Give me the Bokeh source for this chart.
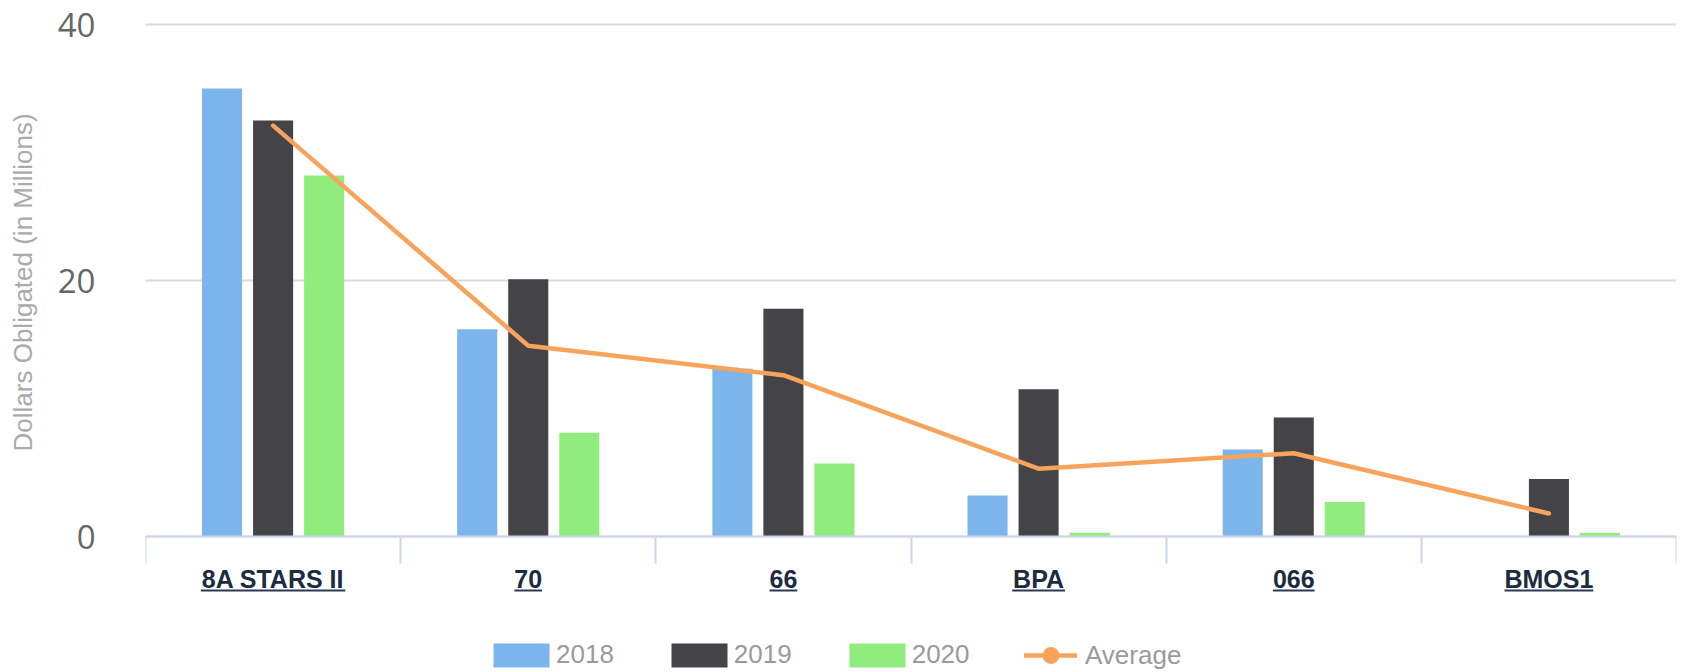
import numpy as np
from bokeh.plotting import figure
from bokeh.layouts import row
from bokeh.models import Range1d, FixedTicker, Legend, LegendItem, ColumnDataSource
from bokeh.core.properties import value
from bokeh.transform import dodge
from bokeh.embed import file_html
from bokeh.resources import INLINE

# ---------------- data ----------------
categories = ["8A STARS II", "70", "66", "BPA", "066", "BMOS1"]
series_names = ["2018", "2019", "2020"]
values_2018 = [35.0, 16.2, 13.1, 3.2, 6.8, 0.0]
values_2019 = [32.5, 20.1, 17.8, 11.5, 9.3, 4.5]
values_2020 = [28.2, 8.1, 5.7, 0.3, 2.7, 0.3]
average = [32.1, 14.9, 12.6, 5.3, 6.5, 1.8]
y_ticks = [0, 20, 40]
y_title = "Dollars Obligated (in Millions)"
avg_name = "Average"

# ---------------- style / layout ----------------
bar_colors = ["#7cb5ec", "#434348", "#90ed7d"]
avg_color = "#f7a35c"
W, H = 1681, 672
TITLE_W = 40                 # strip holding the y-axis title
LEFT, RIGHT, TOP = 105, 5, 10
ZERO_PX, TOP_GRID_PX = 536, 24   # canvas rows of y=0 and y=40
px_per_y = (ZERO_PX - TOP_GRID_PX) / 40.0
y_end = 40 + (TOP_GRID_PX - TOP) / px_per_y
y_start = -(H - ZERO_PX) / px_per_y

n = len(categories)
centers = np.arange(n) + 0.5

src = ColumnDataSource(dict(
    cat=categories, center=centers,
    v2018=values_2018, v2019=values_2019, v2020=values_2020,
    avg=average,
))

p = figure(width=W - TITLE_W, height=H, x_range=Range1d(0, n),
           y_range=Range1d(y_start, y_end),
           output_backend="svg", toolbar_location=None,
           min_border_left=LEFT, min_border_right=RIGHT,
           min_border_top=TOP, min_border_bottom=0)
p.outline_line_color = None
p.background_fill_color = "white"
p.border_fill_color = "white"

# grid
p.xgrid.visible = False
p.ygrid.ticker = FixedTicker(ticks=y_ticks)
p.ygrid.grid_line_color = "#d9d9d9"
p.ygrid.grid_line_width = 2

# y axis
ya = p.yaxis[0]
ya.ticker = FixedTicker(ticks=y_ticks)
ya.axis_line_color = None
ya.major_tick_line_color = None
ya.minor_tick_line_color = None
ya.major_label_standoff = 44
ya.major_label_text_font = "Open Sans"
ya.major_label_text_font_size = "33px"
ya.major_label_text_color = "#666666"

# x axis at y = 0 (labels at category centres, boundary ticks as minor ticks)
xa = p.xaxis[0]
xa.fixed_location = 0
xa.ticker = FixedTicker(ticks=list(centers), minor_ticks=list(range(n + 1)))
xa.major_label_overrides = {float(c): lab for c, lab in zip(centers, categories)}
xa.axis_line_color = "#ccd6eb"
xa.axis_line_width = 2
xa.major_tick_line_color = None
xa.minor_tick_line_color = "#ccd6eb"
xa.minor_tick_line_width = 2
xa.minor_tick_in = 0
xa.minor_tick_out = 27
xa.major_label_standoff = 1
xa.major_label_text_font = "Liberation Sans"
xa.major_label_text_font_style = "bold"
xa.major_label_text_font_size = "25px"
xa.major_label_text_color = "#1d2b40"

# bars
bar_w = 0.157
offsets = [-0.2, 0.0, 0.2]
fields = ["v2018", "v2019", "v2020"]
bar_renderers = []
for f, off, col in zip(fields, offsets, bar_colors):
    r = p.vbar(x=dodge("center", off), top=f, bottom=0, width=bar_w, source=src,
               fill_color=col, line_color=None)
    bar_renderers.append(r)

# average line; its markers are zero-sized on the chart (shown in the legend only)
avg_line = p.line(x="center", y="avg", source=src, line_color=avg_color,
                  line_width=4.5, line_join="round", line_cap="round")
avg_marker = p.scatter(x="center", y="avg", source=src, marker="circle", size=0,
                       fill_color=avg_color, line_color=None)

# underlines of the category labels (links)
char_w = {"8": .556, "A": .722, " ": .278, "S": .667, "T": .611, "R": .722,
          "I": .278, "7": .556, "0": .556, "6": .556, "B": .722, "P": .667,
          "M": .833, "O": .778, "1": .556}
unit_px = (W - TITLE_W - LEFT - RIGHT) / n
half = np.array([sum(char_w.get(ch, .6) for ch in c) * 25 / 2 / unit_px
                 for c in categories])
ul_y = -(590 - ZERO_PX) / px_per_y
p.segment(x0=centers - half, x1=centers + half, y0=[ul_y] * n, y1=[ul_y] * n,
          line_color="#2a3a55", line_width=2)

# legends (bars, and the line+marker item with a taller glyph box)
legend_style = dict(orientation="horizontal", padding=0, margin=0,
                    border_line_color=None, background_fill_alpha=0,
                    label_text_font="Liberation Sans", label_text_font_size="26px",
                    label_text_color="#9a9a9a")
bar_items = [LegendItem(label=nm, renderers=[r]) for nm, r in zip(series_names, bar_renderers)]
legend_bars = Legend(items=bar_items, location=(341, 2), glyph_width=70,
                     glyph_height=30, label_standoff=0, spacing=50, **legend_style)
legend_avg = Legend(items=[LegendItem(label=avg_name, renderers=[avg_line, avg_marker])],
                    location=(879, -4), glyph_width=53, glyph_height=42,
                    label_standoff=8, **legend_style)
p.add_layout(legend_bars, "center")
p.add_layout(legend_avg, "center")

# y-axis title strip
t = figure(width=TITLE_W, height=H, x_range=Range1d(0, TITLE_W),
           y_range=Range1d(0, H), output_backend="svg", toolbar_location=None,
           min_border_left=0, min_border_right=0, min_border_top=0,
           min_border_bottom=0)
t.axis.visible = False
t.grid.visible = False
t.outline_line_color = None
t.border_fill_color = "white"
t.text(x=[22], y=[H - 276], text=[y_title],
       angle=np.pi / 2, text_align="center", text_baseline="middle",
       text_font=value("Liberation Sans"), text_font_size="26px",
       text_color="#aaaaaa")

open("out.html", "w").write(file_html(row(t, p), INLINE))
